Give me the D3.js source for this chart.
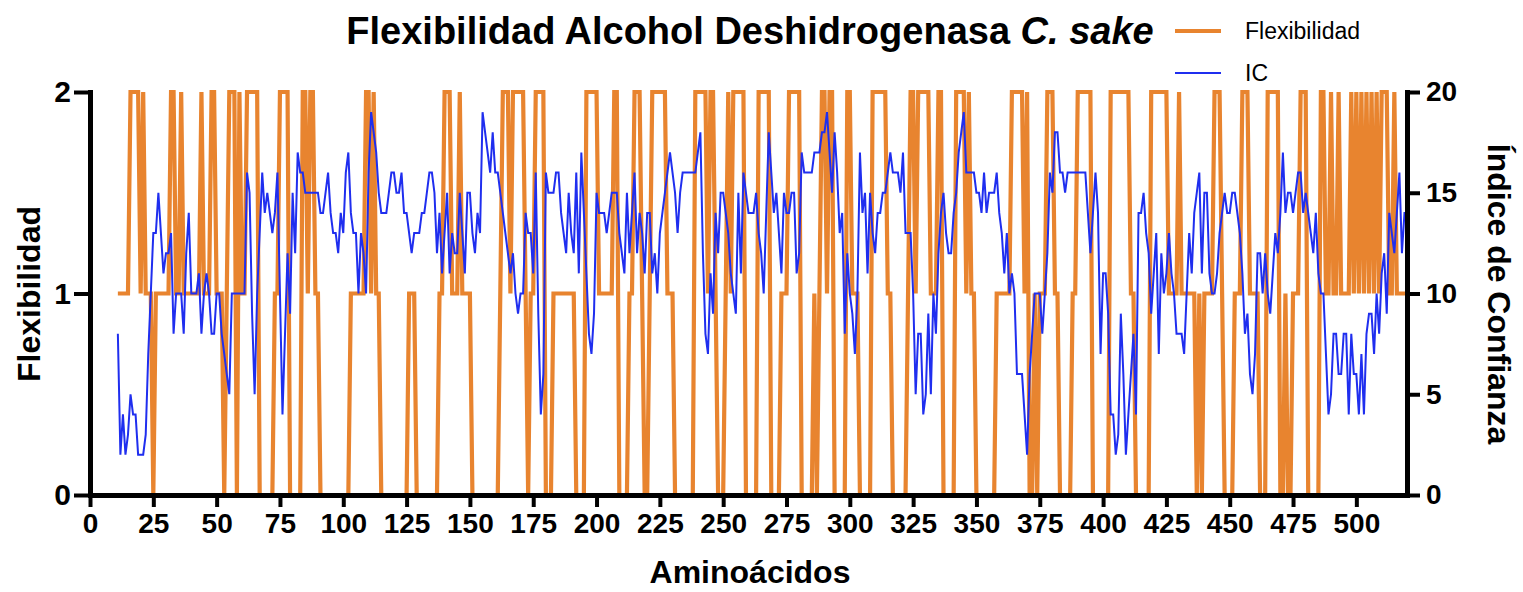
<!DOCTYPE html>
<html>
<head>
<meta charset="utf-8">
<script src="https://cdn.jsdelivr.net/npm/d3@7"></script>
<style>
  body { margin: 0; background: #fff; }
  svg text { font-family: "Liberation Sans", Arial, Helvetica, sans-serif; fill: #000; }
</style>
</head>
<body>
<div id="chart"></div>
<script>
  const width = 1523, height = 592;

  // residue numbers start at 11, one value per residue up to 520
  const firstResidue = 11;

  // Flexibilidad (left axis, 0..2)
  const flex = [
    1,1,1,1,1,2,2,2,2,1, 2,1,1,1,0,1,1,1,1,1, 1,2,2,1,1,2,1,1,1,1, 1,1,1,2,1,1,1,2,2,1,
    1,1,0,1,2,2,2,0,2,1, 1,2,2,2,2,2,0,0,0,0, 0,0,1,1,2,2,2,2,0,0, 0,0,0,2,2,1,2,2,1,1,
    0,0,0,0,0,0,0,0,0,0, 0,0,1,1,1,1,1,1,2,2, 1,2,1,1,0,0,0,0,0,0, 0,0,0,0,0,1,1,1,0,0,
    0,0,0,0,0,0,0,1,1,2, 2,2,1,1,1,2,1,1,1,1, 0,0,0,0,0,0,0,0,0,0, 0,1,2,2,2,1,2,2,2,2,
    2,1,0,1,1,2,2,2,2,0, 0,0,1,1,1,1,1,1,1,1, 1,0,0,0,0,2,2,2,2,2, 1,1,1,1,1,1,2,2,0,0,
    0,0,1,1,2,2,2,1,0,0, 1,2,2,2,2,2,2,1,1,1, 0,0,0,0,0,0,0,0,2,2, 2,2,2,1,2,2,1,0,0,0,
    1,2,1,2,2,2,2,2,0,0, 0,0,0,2,2,2,2,2,0,0, 0,0,1,1,1,2,2,2,2,2, 0,0,0,0,0,1,0,1,2,2,
    1,2,2,0,0,0,0,0,2,2, 1,1,1,0,0,0,0,0,2,2, 2,2,2,2,1,1,0,0,0,0, 0,0,1,2,2,1,2,2,2,2,
    2,1,1,1,2,2,0,0,0,0, 0,2,2,2,2,1,2,1,1,0, 0,0,0,0,0,0,0,1,1,1, 1,1,1,2,2,2,2,2,1,2,
    0,0,1,0,1,1,1,2,2,2, 1,1,0,0,0,0,0,1,1,2, 2,2,2,2,2,0,0,0,0,0, 0,0,2,2,2,2,2,2,2,2,
    1,1,0,0,0,0,0,0,2,2, 2,2,2,2,2,1,1,1,1,2, 1,1,1,1,1,1,0,1,0,1, 1,1,1,2,2,2,1,0,0,0,
    0,1,1,1,2,2,2,1,1,1, 1,0,0,0,2,2,2,2,2,0, 0,1,0,0,1,1,1,2,2,2, 0,0,0,0,0,2,2,1,1,2,
    1,1,2,1,1,1,1,2,1,2, 1,2,1,2,1,2,1,2,1,2, 2,2,1,1,2,1,1,1,1,1
  ];

  // IC, índice de confianza (right axis, 0..20)
  const ic = [
    8,2,4,2,3,5,4,4,2,2, 2,3,7,10,13,13,15,13,11,12, 12,13,8,10,10,10,8,12,14,10, 10,10,11,8,10,11,10,8,8,10,
    10,8,7,6,5,10,10,10,10,10, 10,16,15,9,5,10,13,16,14,15, 14,13,14,16,10,4,8,12,9,15, 12,17,16,16,15,15,15,15,15,15,
    14,14,15,16,14,13,13,12,14,13, 16,17,14,13,13,10,13,12,10,16, 19,18,17,15,14,14,14,15,16,16, 15,15,16,14,14,13,12,13,13,13,
    14,14,15,16,16,15,12,14,11,13, 15,11,13,12,12,15,13,11,15,15, 13,12,14,13,19,18,17,16,18,16, 16,15,14,13,12,11,12,10,9,10,
    10,14,13,13,11,16,9,4,6,16, 15,15,15,16,16,14,13,12,15,13, 12,16,11,17,14,11,8,7,9,15, 14,14,14,13,14,15,15,15,13,12,
    11,15,12,14,16,12,14,13,11,14, 14,11,12,10,13,14,15,16,17,16, 15,13,15,16,16,16,16,16,16,17, 18,12,8,7,11,9,14,12,15,15,
    14,13,11,10,9,15,11,16,15,14, 14,14,15,13,12,10,14,18,16,14, 15,13,11,15,14,14,15,15,11,12, 17,16,16,16,16,17,17,17,18,18,
    19,17,15,18,16,13,14,8,12,10, 9,7,10,17,14,15,11,15,13,12, 14,14,15,15,16,17,16,16,16,15, 17,13,13,13,10,5,8,8,4,5,
    9,5,10,8,12,14,15,13,12,12, 14,15,17,18,19,16,16,16,16,15, 15,14,16,14,15,15,15,16,14,13, 11,13,10,11,10,6,6,6,4,2,
    6,8,10,10,10,8,10,12,16,15, 18,18,16,16,15,16,16,16,16,16, 16,16,16,14,12,14,16,14,7,11, 11,9,4,4,2,3,9,6,2,4,
    6,8,4,14,14,15,13,12,9,11, 13,7,12,10,11,13,11,10,8,8, 8,7,10,13,11,14,15,16,11,15, 15,11,10,10,11,13,14,15,14,14,
    15,15,14,13,11,8,9,6,5,7, 12,12,10,12,10,9,11,13,12,14, 17,14,15,15,14,15,16,16,14,15, 14,13,12,14,11,10,10,7,4,5,
    8,8,6,6,8,8,4,8,6,6, 4,7,4,8,9,9,7,10,8,11, 12,9,14,13,12,14,16,12,14,14
  ];

  const xTicks = d3.range(0, 501, 25);
  const flexTicks = [0, 1, 2];
  const icTicks = [0, 5, 10, 15, 20];

  const orange = '#E8842F', blue = '#1F2EEF';

  const svg = d3.select('#chart').append('svg')
    .attr('width', width).attr('height', height);

  const x = d3.scaleLinear().domain([0, 520]).range([90, 1407]);
  const yL = d3.scaleLinear().domain([0, 2]).range([495, 92]);
  const yR = d3.scaleLinear().domain([0, 20]).range([495, 92]);

  const flexPts = flex.map((v, i) => [firstResidue + i, v]);
  const icPts = ic.map((v, i) => [firstResidue + i, v]);

  // series: flexibility first, IC drawn over it
  svg.append('path')
    .datum(flexPts)
    .attr('fill', 'none')
    .attr('stroke', orange)
    .attr('stroke-width', 4.2)
    .attr('d', d3.line().x(d => x(d[0])).y(d => yL(d[1])));

  svg.append('path')
    .datum(icPts)
    .attr('fill', 'none')
    .attr('stroke', blue)
    .attr('stroke-width', 2)
    .attr('d', d3.line().x(d => x(d[0])).y(d => yR(d[1])));

  function styleAxis(g) {
    g.select('.domain').attr('stroke', '#000').attr('stroke-width', 5).attr('stroke-linecap', 'square');
    g.selectAll('.tick line').attr('stroke', '#000').attr('stroke-width', 4);
    g.selectAll('.tick text').attr('font-weight', 'bold').attr('font-size', 28)
      .attr('font-family', '"Liberation Sans", Arial, sans-serif');
  }

  svg.append('g')
    .attr('transform', 'translate(0,495)')
    .call(d3.axisBottom(x).tickValues(xTicks).tickSize(12).tickSizeOuter(0).tickPadding(6))
    .call(styleAxis);

  svg.append('g')
    .attr('transform', 'translate(90,0)')
    .call(d3.axisLeft(yL).tickValues(flexTicks).tickFormat(d3.format('d'))
      .tickSize(16).tickSizeOuter(0).tickPadding(3))
    .call(styleAxis)
    .selectAll('.tick text').attr('font-size', 30);

  svg.append('g')
    .attr('transform', 'translate(1407,0)')
    .call(d3.axisRight(yR).tickValues(icTicks).tickSize(13).tickSizeOuter(0).tickPadding(6))
    .call(styleAxis);

  // title
  const title = svg.append('text')
    .attr('x', 750).attr('y', 44)
    .attr('text-anchor', 'middle')
    .attr('font-weight', 'bold').attr('font-size', 38);
  title.append('tspan').text('Flexibilidad Alcohol Deshidrogenasa ');
  title.append('tspan').attr('font-style', 'italic').text('C. sake');

  // axis titles
  svg.append('text')
    .attr('x', 750).attr('y', 583)
    .attr('text-anchor', 'middle')
    .attr('font-weight', 'bold').attr('font-size', 32)
    .text('Aminoácidos');

  svg.append('text')
    .attr('transform', 'translate(40,294) rotate(-90)')
    .attr('text-anchor', 'middle')
    .attr('font-weight', 'bold').attr('font-size', 32)
    .text('Flexibilidad');

  svg.append('text')
    .attr('transform', 'translate(1488,294) rotate(90)')
    .attr('text-anchor', 'middle')
    .attr('font-weight', 'bold').attr('font-size', 32)
    .text('Índice de Confianza');

  // legend
  const legend = [
    { label: 'Flexibilidad', color: orange, w: 4.2, y: 31 },
    { label: 'IC', color: blue, w: 2, y: 73 }
  ];
  const lg = svg.append('g').selectAll('g').data(legend).join('g')
    .attr('transform', d => `translate(1175,${d.y})`);
  lg.append('line')
    .attr('x1', 0).attr('x2', 46)
    .attr('stroke', d => d.color).attr('stroke-width', d => d.w);
  lg.append('text')
    .attr('x', 70).attr('dy', '0.35em')
    .attr('font-size', 23)
    .text(d => d.label);
</script>
</body>
</html>
